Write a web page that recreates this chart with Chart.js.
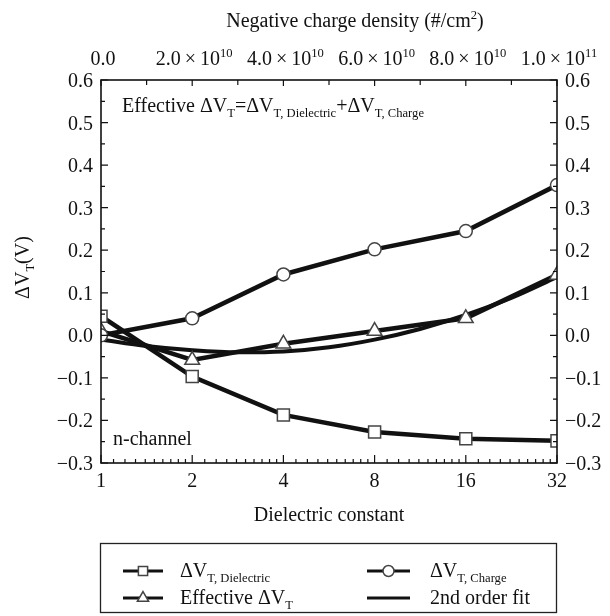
<!DOCTYPE html>
<html><head><meta charset="utf-8">
<script src="https://cdn.jsdelivr.net/npm/chart.js@4/dist/chart.umd.min.js"></script>
<style>html,body{margin:0;padding:0;background:#fff}canvas{display:block}</style>
</head><body>
<canvas id="c" width="610" height="616"></canvas>
<script>
// ---- data ----
const dielectricConstants = [1, 2, 4, 8, 16, 32];
const dvtDielectric = [0.045, -0.097, -0.187, -0.227, -0.243, -0.248];
const dvtCharge     = [0.000, 0.040, 0.143, 0.202, 0.245, 0.353];
const dvtEffective  = [0.010, -0.058, -0.020, 0.010, 0.040, 0.142];
const fitX = [1, 1.41, 2, 2.83, 4, 5.66, 8, 11.3, 16, 22.6, 32];
const fitY = [-0.010, -0.025, -0.035, -0.040, -0.038, -0.028, -0.010, 0.015, 0.048, 0.088, 0.137];
// ---- tick labels ----
const bottomTickValues = [1, 2, 4, 8, 16, 32];
const bottomTickLabels = ['1', '2', '4', '8', '16', '32'];
const chargeTickValues = [0, 2e10, 4e10, 6e10, 8e10, 1e11];
const chargeMantissa = ['0.0', '2.0', '4.0', '6.0', '8.0', '1.0'];
const chargeExponent = ['', '10', '10', '10', '10', '11'];
const yTickValues = [-0.3, -0.2, -0.1, 0.0, 0.1, 0.2, 0.3, 0.4, 0.5, 0.6];
const yTickLabels = ['\u22120.3', '\u22120.2', '\u22120.1', '0.0', '0.1', '0.2', '0.3', '0.4', '0.5', '0.6'];

const FONT = '"Liberation Serif", "Times New Roman", serif';
const FS = 20;
const SUBSCALE = 0.63;

function pts(xs, ys) { return xs.map((x, i) => ({ x: x, y: ys[i] })); }

function segFont(s, size) {
  const sz = (s.sub || s.sup) ? size * SUBSCALE : size;
  return sz + 'px ' + FONT;
}
function richWidth(ctx, segs, size) {
  let w = 0;
  for (const s of segs) { ctx.font = segFont(s, size); w += ctx.measureText(s.t).width; }
  return w;
}
function drawRich(ctx, segs, x, y, size, align) {
  const w = richWidth(ctx, segs, size);
  let cx = align === 'center' ? x - w / 2 : (align === 'right' ? x - w : x);
  ctx.textAlign = 'left';
  ctx.textBaseline = 'alphabetic';
  for (const s of segs) {
    ctx.font = segFont(s, size);
    const dy = s.sub ? size * 0.27 : (s.sup ? -size * 0.42 : 0);
    ctx.fillText(s.t, cx, y + dy);
    cx += ctx.measureText(s.t).width;
  }
}

function marker(ctx, style, x, y, r) {
  ctx.save();
  ctx.fillStyle = '#fff';
  ctx.strokeStyle = '#444';
  ctx.lineWidth = 1.5;
  ctx.beginPath();
  if (style === 'rect') {
    const s = r * Math.SQRT1_2;
    ctx.rect(x - s, y - s, 2 * s, 2 * s);
  } else if (style === 'circle') {
    ctx.arc(x, y, r, 0, Math.PI * 2);
  } else if (style === 'triangle') {
    ctx.moveTo(x, y - r);
    ctx.lineTo(x + r * Math.sin(Math.PI / 3), y + r * 0.5);
    ctx.lineTo(x - r * Math.sin(Math.PI / 3), y + r * 0.5);
    ctx.closePath();
  }
  ctx.fill();
  ctx.stroke();
  ctx.restore();
}

const decorPlugin = {
  id: 'decor',
  afterDraw(chart) {
    const ctx = chart.ctx;
    const a = chart.chartArea;
    const sx = chart.scales.x, sx2 = chart.scales.x2, sy = chart.scales.y, sy2 = chart.scales.y2;
    ctx.save();
    ctx.strokeStyle = '#111';
    ctx.fillStyle = '#111';
    // frame
    ctx.lineWidth = 1.6;
    ctx.strokeRect(a.left, a.top, a.right - a.left, a.bottom - a.top);
    ctx.lineWidth = 1.2;
    ctx.beginPath();
    // left / right ticks (inward)
    for (let k = -6; k <= 12; k++) {
      const v = k * 0.05;
      const major = (k % 2 === 0);
      const len = major ? 7 : 4;
      const py = sy.getPixelForValue(v);
      const py2 = sy2.getPixelForValue(v);
      ctx.moveTo(a.left, py); ctx.lineTo(a.left + len, py);
      ctx.moveTo(a.right, py2); ctx.lineTo(a.right - len, py2);
    }
    // bottom log ticks (inward)
    for (let i = 0; i < bottomTickValues.length; i++) {
      const b = bottomTickValues[i];
      const px = sx.getPixelForValue(b);
      ctx.moveTo(px, a.bottom); ctx.lineTo(px, a.bottom - 8);
      if (i < bottomTickValues.length - 1) {
        for (let m = 1; m <= 9; m++) {
          const mx = sx.getPixelForValue(b * (1 + m / 10));
          ctx.moveTo(mx, a.bottom); ctx.lineTo(mx, a.bottom - 4);
        }
      }
    }
    // top ticks (inward)
    for (let k = 0; k <= 10; k++) {
      const px = sx2.getPixelForValue(k * 1e10);
      const len = (k % 2 === 0) ? 6 : 5;
      ctx.moveTo(px, a.top); ctx.lineTo(px, a.top + len);
    }
    ctx.stroke();

    // tick labels
    ctx.fillStyle = '#111';
    for (let i = 0; i < yTickValues.length; i++) {
      const py = sy.getPixelForValue(yTickValues[i]);
      drawRich(ctx, [{ t: yTickLabels[i] }], a.left - 8, py + 7, FS, 'right');
      drawRich(ctx, [{ t: yTickLabels[i] }], a.right + 8, py + 7, FS, 'left');
    }
    for (let i = 0; i < bottomTickValues.length; i++) {
      const px = sx.getPixelForValue(bottomTickValues[i]);
      drawRich(ctx, [{ t: bottomTickLabels[i] }], px, a.bottom + 24, FS, 'center');
    }
    for (let i = 0; i < chargeTickValues.length; i++) {
      const px = sx2.getPixelForValue(chargeTickValues[i]);
      const segs = chargeExponent[i]
        ? [{ t: chargeMantissa[i] + '\u2009\u00d7\u200910' }, { t: chargeExponent[i], sup: true }]
        : [{ t: chargeMantissa[i] }];
      drawRich(ctx, segs, px + 2, a.top - 15, FS, 'center');
    }

    // axis titles
    drawRich(ctx, [{ t: 'Negative charge density (#/cm' }, { t: '2', sup: true }, { t: ')' }], 355, 27, FS, 'center');
    drawRich(ctx, [{ t: 'Dielectric constant' }], (a.left + a.right) / 2, 521, FS, 'center');
    ctx.save();
    ctx.translate(29, (a.top + a.bottom) / 2 - 4);
    ctx.rotate(-Math.PI / 2);
    drawRich(ctx, [{ t: '\u0394V' }, { t: 'T', sub: true }, { t: '(V)' }], 0, 0, FS, 'center');
    ctx.restore();

    // annotations
    drawRich(ctx, [
      { t: 'Effective \u0394V' }, { t: 'T', sub: true }, { t: '=\u0394V' }, { t: 'T, Dielectric', sub: true },
      { t: '+\u0394V' }, { t: 'T, Charge', sub: true }
    ], 122, 112, FS, 'left');
    drawRich(ctx, [{ t: 'n-channel' }], 113, 445, FS, 'left');

    // legend box
    ctx.lineWidth = 1.3;
    ctx.strokeStyle = '#222';
    ctx.strokeRect(100.5, 543.5, 456, 69);
    const rows = [571, 598];
    const cols = [{ x0: 123, x1: 163, tx: 180 }, { x0: 367, x1: 410, tx: 430 }];
    const items = [
      { c: 0, r: 0, style: 'rect', segs: [{ t: '\u0394V' }, { t: 'T, Dielectric', sub: true }] },
      { c: 1, r: 0, style: 'circle', segs: [{ t: '\u0394V' }, { t: 'T, Charge', sub: true }] },
      { c: 0, r: 1, style: 'triangle', segs: [{ t: 'Effective \u0394V' }, { t: 'T', sub: true }] },
      { c: 1, r: 1, style: null, segs: [{ t: '2nd order fit' }] }
    ];
    for (const it of items) {
      const col = cols[it.c], y = rows[it.r];
      ctx.strokeStyle = '#111';
      ctx.lineWidth = 3;
      ctx.beginPath(); ctx.moveTo(col.x0, y); ctx.lineTo(col.x1, y); ctx.stroke();
      if (it.style) marker(ctx, it.style, (col.x0 + col.x1) / 2, y, it.style === 'circle' ? 5.5 : 6.5);
      ctx.fillStyle = '#111';
      drawRich(ctx, it.segs, col.tx, y + 6, FS, 'left');
    }
    ctx.restore();
  }
};

const lineCommon = {
  borderColor: '#111', borderWidth: 4.5, pointBackgroundColor: '#fff', pointBorderColor: '#444',
  pointBorderWidth: 1.5, tension: 0, clip: 0, fill: false
};

new Chart(document.getElementById('c'), {
  type: 'line',
  data: {
    datasets: [
      Object.assign({}, lineCommon, { label: '\u0394V T, Dielectric', data: pts(dielectricConstants, dvtDielectric), pointStyle: 'rect', pointRadius: 8.5, order: 1 }),
      Object.assign({}, lineCommon, { label: '\u0394V T, Charge', data: pts(dielectricConstants, dvtCharge), pointStyle: 'circle', pointRadius: 6.5, order: 2 }),
      Object.assign({}, lineCommon, { label: 'Effective \u0394V T', data: pts(dielectricConstants, dvtEffective), pointStyle: 'triangle', pointRadius: 8.5, order: 3 }),
      Object.assign({}, lineCommon, { label: '2nd order fit', data: pts(fitX, fitY), pointRadius: 0, borderWidth: 4, cubicInterpolationMode: 'monotone', order: 4 })
    ]
  },
  options: {
    responsive: false,
    animation: false,
    devicePixelRatio: 1,
    layout: { padding: { left: 101, right: 53, top: 80, bottom: 153 } },
    plugins: { legend: { display: false }, tooltip: { enabled: false } },
    scales: {
      x: { type: 'logarithmic', min: 1, max: 32, display: false },
      x2: { type: 'linear', position: 'top', min: 0, max: 1e11, display: false },
      y: { type: 'linear', min: -0.3, max: 0.6, display: false },
      y2: { type: 'linear', position: 'right', min: -0.3, max: 0.6, display: false }
    }
  },
  plugins: [decorPlugin]
});
</script>
</body></html>
